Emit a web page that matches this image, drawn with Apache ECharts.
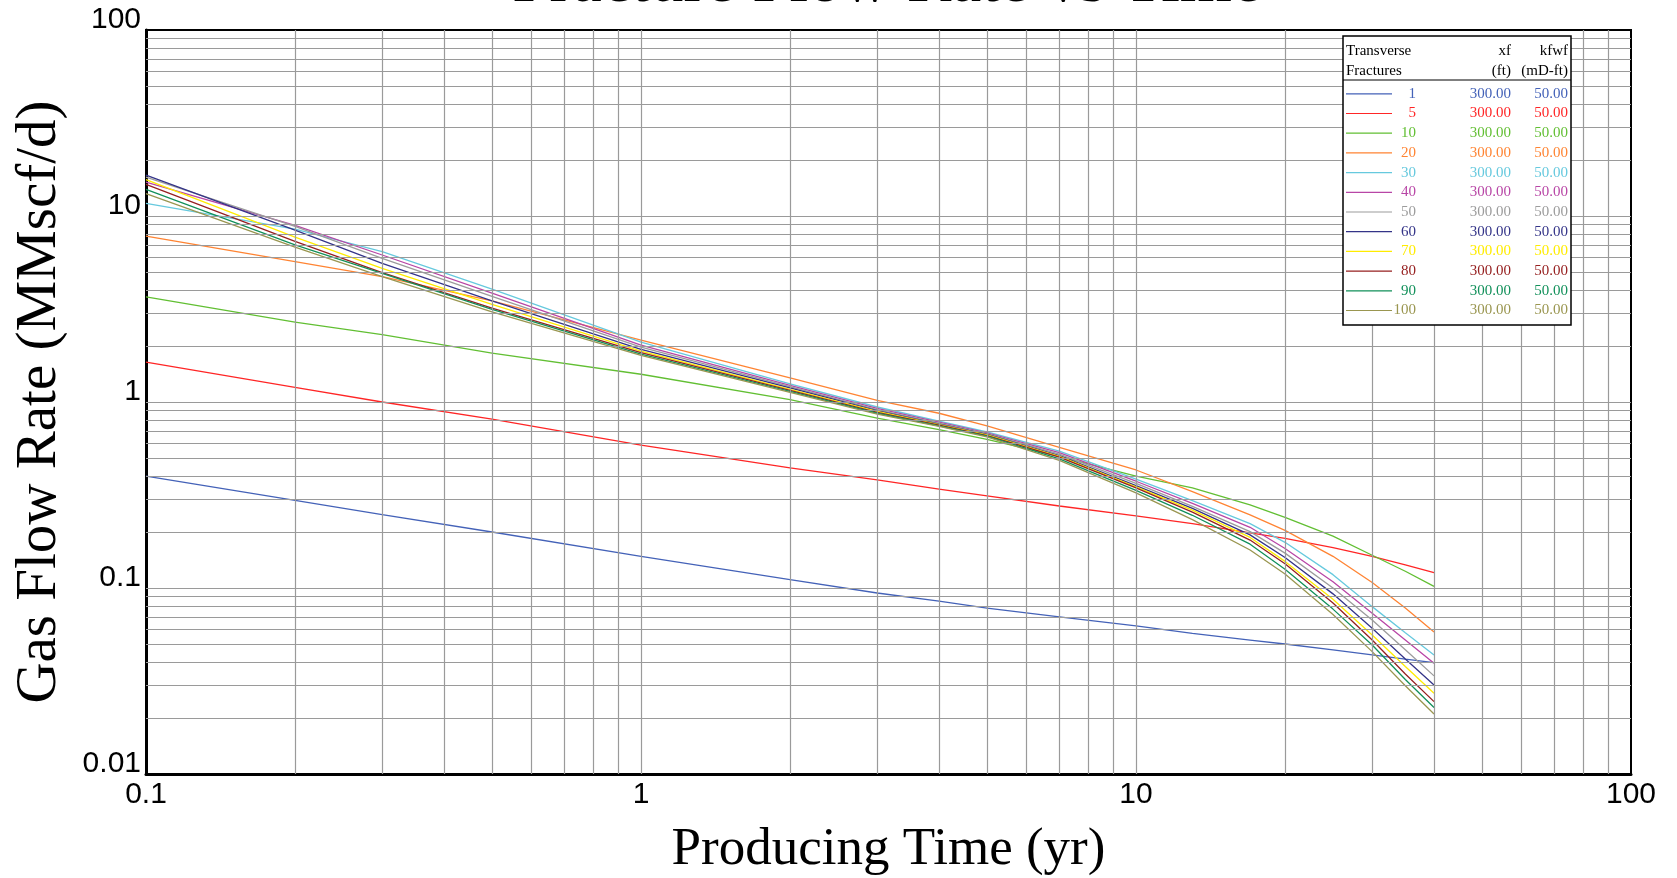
<!DOCTYPE html>
<html>
<head>
<meta charset="utf-8">
<title>Fracture Flow Rate vs Time</title>
<script src="https://cdn.jsdelivr.net/npm/echarts@6/dist/echarts.min.js"></script>
<style>
    html, body { margin: 0; padding: 0; background: #fff; }
    #chart { width: 1677px; height: 878px; }
</style>
</head>
<body>
<div id="chart"></div>
<script>
// producing time (yr) where the curves were read
var times = [0.1, 0.2, 0.3, 0.5, 1, 2, 3, 4, 5, 7, 10, 13, 17, 20, 25, 30, 35, 40];

// legend table
var fractures = ['1', '5', '10', '20', '30', '40', '50', '60', '70', '80', '90', '100'];
var xfValues = [300, 300, 300, 300, 300, 300, 300, 300, 300, 300, 300, 300];
var kfwfValues = [50, 50, 50, 50, 50, 50, 50, 50, 50, 50, 50, 50];

// gas flow rate (MMscf/d), one array per number of transverse fractures
var rate1 = [0.40, 0.296, 0.248, 0.200, 0.148, 0.111, 0.094, 0.085, 0.078, 0.070, 0.0625, 0.057, 0.0525, 0.050, 0.0465, 0.0437, 0.0415, 0.0397];
var rate5 = [1.64, 1.20, 1.00, 0.81, 0.587, 0.442, 0.381, 0.340, 0.313, 0.276, 0.244, 0.222, 0.198, 0.185, 0.165, 0.148, 0.133, 0.121];
var rate10 = [3.67, 2.69, 2.30, 1.83, 1.41, 1.03, 0.82, 0.71, 0.63, 0.51, 0.40, 0.345, 0.28, 0.24, 0.19, 0.150, 0.123, 0.102];
var rate20 = [7.8, 5.68, 4.72, 3.5, 2.15, 1.35, 1.02, 0.87, 0.745, 0.57, 0.431, 0.33, 0.247, 0.204, 0.148, 0.107, 0.078, 0.058];
var rate30 = [11.7, 8.5, 6.43, 4.05, 2.1, 1.25, 0.94, 0.79, 0.69, 0.545, 0.385, 0.295, 0.222, 0.176, 0.118, 0.0794, 0.0575, 0.0436];
var rate40 = [15.2, 8.9, 6.17, 3.85, 2.02, 1.23, 0.925, 0.78, 0.682, 0.535, 0.375, 0.285, 0.212, 0.163, 0.108, 0.0731, 0.0525, 0.0394];
var rate50 = [16.2, 8.8, 5.92, 3.7, 1.97, 1.21, 0.91, 0.77, 0.676, 0.525, 0.365, 0.275, 0.201, 0.154, 0.100, 0.0673, 0.0465, 0.0337];
var rate60 = [16.6, 8.4, 5.56, 3.5, 1.92, 1.19, 0.90, 0.76, 0.67, 0.515, 0.355, 0.268, 0.193, 0.146, 0.093, 0.0607, 0.0415, 0.0301];
var rate70 = [15.7, 7.7, 5.23, 3.35, 1.88, 1.17, 0.89, 0.755, 0.665, 0.51, 0.35, 0.262, 0.187, 0.139, 0.087, 0.0559, 0.0378, 0.0272];
var rate80 = [14.8, 7.3, 4.96, 3.2, 1.84, 1.155, 0.88, 0.75, 0.66, 0.505, 0.345, 0.256, 0.181, 0.135, 0.083, 0.0525, 0.0345, 0.0245];
var rate90 = [13.9, 7.0, 4.92, 3.15, 1.81, 1.14, 0.87, 0.745, 0.655, 0.495, 0.335, 0.246, 0.172, 0.126, 0.077, 0.0494, 0.0322, 0.0228];
var rate100 = [13.2, 6.8, 4.72, 3.05, 1.78, 1.125, 0.86, 0.74, 0.65, 0.485, 0.325, 0.233, 0.160, 0.119, 0.072, 0.0455, 0.0298, 0.0210];

var rates = [rate1, rate5, rate10, rate20, rate30, rate40, rate50, rate60, rate70, rate80, rate90, rate100];
var colors = ['#4462b8', '#ff2626', '#62bf33', '#ff8433', '#66c9de', '#b846a6', '#9c9c9c', '#343488',
    '#ffec00', '#962020', '#12905a', '#9a9650'];

// axis tick labels, one per decade
var xTickLabels = ['0.1', '1', '10', '100'];
var yTickLabels = ['0.01', '0.1', '1', '10', '100'];

var serif = '"Liberation Serif", "Times New Roman", serif';
var sans = '"Liberation Sans", Arial, sans-serif';

// legend box (pixels): left, top, right, bottom
var legendBox = [1343, 36, 1571, 323];

// log grid lines: 2..9 in every decade plus the inner decades
var gridX = [], gridY = [];
[0.1, 1, 10].forEach(function (d) {
    for (var k = 2; k <= 10; k++) gridX.push(+(d * k).toPrecision(3));
});
gridX.pop();
[0.01, 0.1, 1, 10].forEach(function (d) {
    for (var k = 2; k <= 10; k++) gridY.push(+(d * k).toPrecision(3));
});
gridY.pop();

var chart = echarts.init(document.getElementById('chart'));

var series = [{
    name: 'grid',
    type: 'line',
    data: [],
    silent: true,
    z: 1,
    markLine: {
        silent: true,
        symbol: 'none',
        label: { show: false },
        animation: false,
        lineStyle: { color: '#9a9a9a', width: 1.2, type: 'solid' },
        data: []
    }
}];

for (var i = 0; i < rates.length; i++) {
    series.push({
        name: fractures[i],
        type: 'line',
        symbol: 'none',
        z: 2,
        lineStyle: { color: colors[i], width: 1.3 },
        itemStyle: { color: colors[i] },
        data: times.map(function (t, j) { return [t, this[j]]; }, rates[i])
    });
}

var headStyle = { font: '15px ' + serif, fill: '#000', verticalAlign: 'middle' };

var option = {
    animation: false,
    backgroundColor: '#fff',
    title: {
        text: 'Fracture Flow Rate vs Time',
        left: 887,
        top: -50,
        padding: 0,
        textAlign: 'center',
        textStyle: { fontFamily: serif, fontSize: 67, fontWeight: 'normal', color: '#000' }
    },
    grid: {
        left: 146, right: 46, top: 30, bottom: 104,
        containLabel: false,
        outerBoundsMode: 'none',
        show: true, borderColor: '#000', borderWidth: 2
    },
    xAxis: {
        type: 'log',
        logBase: 10,
        min: 0.1,
        max: 100,
        name: 'Producing Time (yr)',
        nameLocation: 'middle',
        nameGap: 50,
        nameMoveOverlap: false,
        nameTextStyle: { fontFamily: serif, fontSize: 53, color: '#000' },
        axisLine: { show: true, onZero: false, lineStyle: { color: '#000', width: 3 } },
        axisTick: { show: false },
        splitLine: { show: false },
        axisLabel: {
            margin: 6,
            lineHeight: 30,
            fontFamily: sans,
            fontSize: 30,
            color: '#000',
            showMinLabel: true,
            showMaxLabel: true,
            formatter: function (v) {
                return xTickLabels[Math.round(Math.log10(v)) + 1] || '';
            }
        }
    },
    yAxis: {
        type: 'log',
        logBase: 10,
        min: 0.01,
        max: 100,
        name: 'Gas Flow Rate (MMscf/d)',
        nameLocation: 'middle',
        nameGap: 77,
        nameMoveOverlap: false,
        nameTextStyle: { fontFamily: serif, fontSize: 57, color: '#000' },
        axisLine: { show: true, onZero: false, lineStyle: { color: '#000', width: 3 } },
        axisTick: { show: false },
        splitLine: { show: false },
        axisLabel: {
            margin: 5,
            lineHeight: 21,
            verticalAlign: 'bottom',
            fontFamily: sans,
            fontSize: 30,
            color: '#000',
            showMinLabel: true,
            showMaxLabel: true,
            formatter: function (v) {
                return yTickLabels[Math.round(Math.log10(v)) + 2] || '';
            }
        }
    },
    legend: {
        orient: 'vertical',
        left: legendBox[0],
        top: legendBox[1],
        padding: [50.3, 3, 7, 3],
        backgroundColor: '#fff',
        borderColor: '#000',
        borderWidth: 1.5,
        borderRadius: 0,
        itemWidth: 46,
        itemHeight: 14,
        itemGap: 4.7,
        selectedMode: false,
        z: 6,
        // plain line sample: the two tiny end pieces only hold the 46x14 box open
        icon: 'path://M0,0L1,0L1,0.01Z M0,6.4L46,6.4L46,7.6L0,7.6Z M0,14L1,14L1,13.99Z',
        data: fractures.map(function (f, i) {
            return { name: f, textStyle: { color: colors[i] } };
        }),
        formatter: function (name) {
            var i = fractures.indexOf(name);
            return '{n|' + name + '}{a|' + xfValues[i].toFixed(2) + '}{b|' + kfwfValues[i].toFixed(2) + '}';
        },
        textStyle: {
            fontFamily: serif,
            fontSize: 15,
            lineHeight: 14,
            rich: {
                n: { width: 19, align: 'right', fontFamily: serif, fontSize: 15, lineHeight: 14 },
                a: { width: 95, align: 'right', fontFamily: serif, fontSize: 15, lineHeight: 14 },
                b: { width: 57, align: 'right', fontFamily: serif, fontSize: 15, lineHeight: 14 }
            }
        }
    },
    graphic: [
        {
            type: 'line', z: 100, silent: true,
            shape: { x1: legendBox[0], y1: 80, x2: legendBox[2], y2: 80 },
            style: { stroke: '#000', lineWidth: 1 }
        },
        { type: 'text', z: 100, x: 1346, y: 51, style: Object.assign({ text: 'Transverse' }, headStyle) },
        { type: 'text', z: 100, x: 1346, y: 71, style: Object.assign({ text: 'Fractures' }, headStyle) },
        { type: 'text', z: 100, x: 1511, y: 51, style: Object.assign({ text: 'xf', align: 'right' }, headStyle) },
        { type: 'text', z: 100, x: 1511, y: 71, style: Object.assign({ text: '(ft)', align: 'right' }, headStyle) },
        { type: 'text', z: 100, x: 1568, y: 51, style: Object.assign({ text: 'kfwf', align: 'right' }, headStyle) },
        { type: 'text', z: 100, x: 1568, y: 71, style: Object.assign({ text: '(mD-ft)', align: 'right' }, headStyle) }
    ],
    series: series
};

chart.setOption(option);

// grid lines stop at the legend box, which sits over the plot
var lt = chart.convertFromPixel({ gridIndex: 0 }, [legendBox[0], legendBox[1]]);
var rb = chart.convertFromPixel({ gridIndex: 0 }, [legendBox[2], legendBox[3]]);
var lines = [];
gridX.forEach(function (v) {
    if (v > lt[0] && v < rb[0]) {
        lines.push([{ coord: [v, 0.01] }, { coord: [v, rb[1]] }]);
    } else {
        lines.push({ xAxis: v });
    }
});
gridY.forEach(function (v) {
    if (v > rb[1]) {
        lines.push([{ coord: [0.1, v] }, { coord: [lt[0], v] }]);
        lines.push([{ coord: [rb[0], v] }, { coord: [100, v] }]);
    } else {
        lines.push({ yAxis: v });
    }
});
chart.setOption({ series: [{ name: 'grid', markLine: { data: lines } }] });

window.addEventListener('resize', function () {
    chart.resize();
});
</script>
</body>
</html>
